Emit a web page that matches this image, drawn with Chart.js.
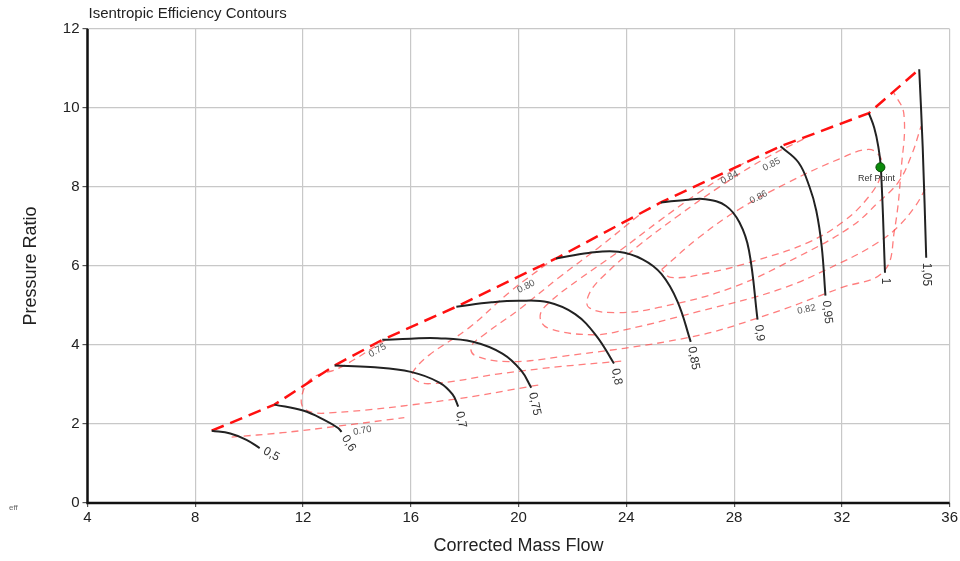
<!DOCTYPE html>
<html>
<head>
<meta charset="utf-8">
<title>Isentropic Efficiency Contours</title>
<script src="https://cdn.jsdelivr.net/npm/chart.js@4.4.1/dist/chart.umd.min.js"></script>
<style>
  html, body { margin: 0; padding: 0; background: #fff; }
  #wrap { width: 960px; height: 561px; position: relative; }
</style>
</head>
<body>
<div id="wrap"><canvas id="map"></canvas></div>
<script>
// axis ranges / ticks
const xMin = 4, xMax = 36, xStep = 4;
const yMin = 0, yMax = 12, yStep = 2;

// corrected speed lines (mass flow, pressure ratio)
const speedNames = ['0,5', '0,6', '0,7', '0,75', '0,8', '0,85', '0,9', '0,95', '1', '1,05'];
const speed050 = [[8.61, 1.83], [9.3, 1.76], [9.9, 1.6], [10.39, 1.39]];
const speed060 = [[10.94, 2.49], [12.0, 2.34], [12.8, 2.1], [13.3, 1.9], [13.43, 1.80]];
const speed070 = [[13.17, 3.48], [14.5, 3.44], [16.0, 3.32], [17.06, 3.05], [17.55, 2.75], [17.76, 2.44]];
const speed075 = [[14.94, 4.13], [16, 4.16], [17, 4.17], [18.3, 4.08], [19.4, 3.78], [20.1, 3.35], [20.47, 2.92]];
const speed080 = [[17.69, 4.97], [19, 5.08], [20, 5.12], [21.1, 5.08], [22.1, 4.78], [22.9, 4.22], [23.54, 3.53]];
const speed085 = [[21.39, 6.19], [22.6, 6.33], [23.7, 6.36], [24.6, 6.17], [25.3, 5.8], [25.9, 5.1], [26.39, 4.08]];
const speed090 = [[25.28, 7.61], [26.3, 7.68], [26.94, 7.69], [27.7, 7.52], [28.2, 7.1], [28.55, 6.4], [28.87, 4.64]];
const speed095 = [[29.72, 9.03], [30.39, 8.62], [30.8, 8.0], [31.05, 7.4], [31.25, 6.5], [31.39, 5.25]];
const speed100 = [[33.0, 9.87], [33.2, 9.5], [33.35, 9.03], [33.45, 8.45], [33.6, 5.83]];
const speed105 = [[34.87, 10.98], [35.0, 9.0], [35.13, 6.21]];
const speedLines = [speed050, speed060, speed070, speed075, speed080, speed085, speed090, speed095, speed100, speed105];

// surge line through the first point of each speed line
const surgeLine = speedLines.map(s => s[0]);

// isentropic efficiency contours
const effNames = ['0.70', '0.75', '0.80', '0.82', '0.84', '0.85', '0.86'];
const eff070 = [[9.35, 1.67], [11.24, 1.78], [13.35, 1.95], [15.76, 2.16]];
const eff075 = [[15.06, 4.13], [13.35, 3.42], [12.31, 3.15], [11.94, 2.66], [12.09, 2.36], [12.98, 2.28], [17.43, 2.61], [20.76, 2.99]];
const eff080 = [[21.06, 6.06], [19.65, 5.33], [18.17, 4.44], [16.69, 3.75], [16.13, 3.37], [16.06, 3.17], [16.69, 3.02], [19.28, 3.27], [21.50, 3.45], [23.98, 3.60]];
const eff082 = [[24.46, 7.28], [22.98, 6.47], [21.50, 5.71], [20.02, 4.90], [18.72, 4.26], [18.24, 3.96], [18.39, 3.73], [19.65, 3.58], [21.50, 3.70], [26.31, 4.19], [28.91, 4.69], [31.98, 5.45], [33.55, 5.86], [33.95, 6.90], [34.2, 8.45], [34.3, 9.85], [33.92, 10.4]];
const eff084 = [[28.35, 8.60], [26.69, 7.86], [25.20, 7.13], [23.72, 6.37], [22.24, 5.66], [21.13, 5.07], [20.80, 4.74], [21.06, 4.44], [22.72, 4.26], [23.98, 4.39], [26.69, 4.85], [29.65, 5.40], [31.98, 6.09], [33.35, 6.60], [34.09, 7.00], [34.72, 7.51], [35.09, 7.94]];
const eff085 = [[30.57, 9.21], [29.09, 8.70], [27.43, 7.99], [25.94, 7.28], [24.46, 6.52], [23.17, 5.76], [22.61, 5.28], [22.61, 4.95], [23.61, 4.82], [25.20, 4.95], [27.91, 5.45], [30.39, 6.24], [32.35, 7.00], [33.35, 7.61], [34.09, 8.12], [34.57, 8.78], [34.94, 9.54]];
const eff086 = [[25.31, 5.91], [26.69, 6.72], [28.17, 7.43], [30.02, 8.12], [31.87, 8.70], [32.98, 8.95], [33.43, 8.75], [33.46, 8.32], [32.98, 7.74], [32.06, 7.13], [30.76, 6.60], [28.91, 6.16], [26.94, 5.81], [25.65, 5.71], [25.31, 5.91]];
const effLines = [eff070, eff075, eff080, eff082, eff084, eff085, eff086];
// where each contour value is written
const effLabelAt = [[14.20, 1.83], [14.76, 3.86], [20.28, 5.48], [30.69, 4.90], [27.83, 8.24], [29.39, 8.57], [28.91, 7.74]];

// design point
const refPoint = [33.43, 8.50];

const pts = arr => arr.map(([x, y]) => ({ x, y }));

const datasets = [];
datasets.push({
  label: 'Ref Point', data: pts([refPoint]), order: 0,
  pointRadius: 4.5, pointBackgroundColor: '#0b8a0b', pointBorderColor: '#064d06', pointBorderWidth: 1,
  showLine: false
});
speedLines.forEach((s, i) => datasets.push({
  label: 'N ' + speedNames[i], data: pts(s), order: 1,
  showLine: true, borderColor: '#222', borderWidth: 2, pointRadius: 0,
  tension: 0.4
}));
datasets.push({
  label: 'Surge', data: pts(surgeLine), order: 2,
  showLine: true, borderColor: '#ff1010', borderWidth: 2.5, borderDash: [13, 7],
  pointRadius: 0, tension: 0
});
effLines.forEach((e, i) => datasets.push({
  label: 'eff ' + effNames[i], data: pts(e), order: 3,
  showLine: true, borderColor: 'rgba(255,70,70,0.7)', borderWidth: 1.3, borderDash: [7, 5],
  pointRadius: 0, tension: 0.4
}));

// text drawn on top of the plot: speed labels, contour labels, titles
const annotate = {
  id: 'annotate',
  afterDatasetsDraw(chart) {
    const { ctx, scales: { x, y }, chartArea } = chart;
    const font = (s) => s + 'px "Liberation Sans", Arial, sans-serif';
    ctx.save();

    // speed labels hang off the choke end of each line
    const speedRot = [28, 58, 78, 78, 78, 80, 82, 84, 90, 90];
    ctx.fillStyle = '#333';
    ctx.font = font(12);
    ctx.textAlign = 'left';
    ctx.textBaseline = 'middle';
    speedLines.forEach((s, i) => {
      const end = s[s.length - 1];
      ctx.save();
      ctx.translate(x.getPixelForValue(end[0]), y.getPixelForValue(end[1]));
      ctx.rotate(speedRot[i] * Math.PI / 180);
      ctx.fillText(speedNames[i], 5, 0);
      ctx.restore();
    });

    // efficiency values
    const effRot = [-10, -30, -27, -12, -27, -27, -27];
    ctx.fillStyle = '#555';
    ctx.font = font(9.5);
    ctx.textAlign = 'center';
    effLabelAt.forEach((p, i) => {
      ctx.save();
      ctx.translate(x.getPixelForValue(p[0]), y.getPixelForValue(p[1]));
      ctx.rotate(effRot[i] * Math.PI / 180);
      ctx.fillText(effNames[i], 0, 0);
      ctx.restore();
    });

    // ref point caption
    ctx.fillStyle = '#333';
    ctx.font = font(9);
    ctx.fillText('Ref Point', x.getPixelForValue(refPoint[0]) - 4, y.getPixelForValue(refPoint[1]) + 11);

    // chart title and axis titles
    ctx.fillStyle = '#222';
    ctx.textAlign = 'left';
    ctx.font = font(15);
    ctx.fillText('Isentropic Efficiency Contours', chartArea.left + 1, 14);
    ctx.font = font(8);
    ctx.fillStyle = '#666';
    ctx.fillText('eff', 9, 508);

    ctx.fillStyle = '#222';
    ctx.font = font(18);
    ctx.textAlign = 'center';
    ctx.fillText('Corrected Mass Flow', (chartArea.left + chartArea.right) / 2, 546);
    ctx.save();
    ctx.translate(31, (chartArea.top + chartArea.bottom) / 2);
    ctx.rotate(-Math.PI / 2);
    ctx.fillText('Pressure Ratio', 0, 0);
    ctx.restore();

    ctx.restore();
  }
};

// heavy black frame on the left and bottom only
const frame = {
  id: 'frame',
  afterDraw(chart) {
    const { ctx, chartArea: a } = chart;
    ctx.save();
    ctx.strokeStyle = '#111';
    ctx.lineWidth = 2.5;
    ctx.beginPath();
    ctx.moveTo(a.left, a.top);
    ctx.lineTo(a.left, a.bottom);
    ctx.lineTo(a.right, a.bottom);
    ctx.stroke();
    ctx.restore();
  }
};

new Chart(document.getElementById('map'), {
  type: 'scatter',
  data: { datasets },
  options: {
    responsive: true,
    maintainAspectRatio: false,
    animation: false,
    layout: { padding: { left: 0, right: 8.5, top: 29, bottom: 0 } },
    plugins: { legend: { display: false }, tooltip: { enabled: false }, title: { display: false } },
    scales: {
      x: {
        type: 'linear', min: xMin, max: xMax,
        afterFit: s => { s.height = 58; },
        ticks: { stepSize: xStep, color: '#222', font: { size: 15, family: '"Liberation Sans", Arial' }, padding: 2, maxRotation: 0 },
        grid: { color: '#c8c8c8', lineWidth: 1.2, tickLength: 4, tickColor: '#555' },
        border: { display: false }
      },
      y: {
        type: 'linear', min: yMin, max: yMax,
        afterFit: s => { s.width = 87.5; },
        ticks: { stepSize: yStep, color: '#222', font: { size: 15, family: '"Liberation Sans", Arial' }, padding: 3 },
        grid: { color: '#c8c8c8', lineWidth: 1.2, tickLength: 5, tickColor: '#555' },
        border: { display: false }
      }
    }
  },
  plugins: [annotate, frame]
});
</script>
</body>
</html>
